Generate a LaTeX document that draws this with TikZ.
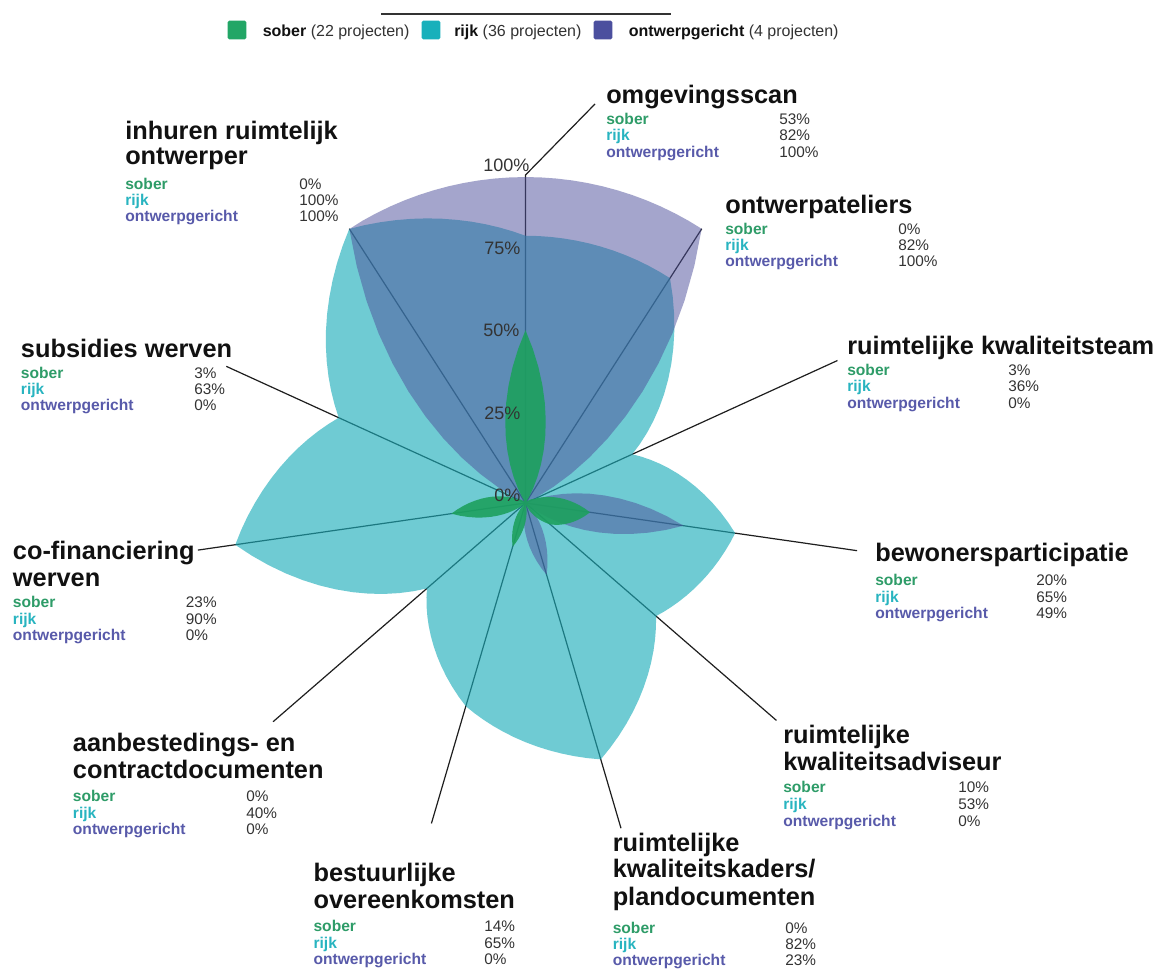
\documentclass[tikz,border=0pt]{standalone}
\usepackage{fontspec}
\setmainfont{Liberation Sans}
\usetikzlibrary{calc}
\definecolor{sobF}{RGB}{29,160,94}
\definecolor{rijF}{RGB}{28,173,186}
\definecolor{ontF}{RGB}{78,80,155}
\definecolor{sobT}{RGB}{46,156,104}
\definecolor{rijT}{RGB}{40,180,192}
\definecolor{ontT}{RGB}{88,90,170}
\definecolor{valT}{RGB}{51,51,51}
\definecolor{ttlT}{RGB}{17,17,17}
\definecolor{axC}{RGB}{30,30,30}
\definecolor{legG}{RGB}{34,166,102}
\definecolor{legT}{RGB}{25,176,187}
\definecolor{legP}{RGB}{75,79,158}

\def\vals{{0,0,0,0,0,0,0,0,0,0,0,0}}
\pgfmathdeclarefunction{rosefn}{1}{%
  \begingroup
    \pgfmathsetmacro\rfT{#1}%
    \pgfmathtruncatemacro\rfK{floor(\rfT+0.0001)}%
    \ifnum\rfK>10 \def\rfK{10}\fi
    \ifnum\rfK<0 \def\rfK{0}\fi
    \pgfmathtruncatemacro\rfKK{\rfK+1}%
    \pgfmathsetmacro\rfF{max(min(\rfT-\rfK,1),0)}%
    \pgfmathsetmacro\rfA{\vals[\rfK]}%
    \pgfmathsetmacro\rfB{\vals[\rfKK]}%
    \pgfmathsetmacro\rfA{max(\rfA,0.01)}%
    \pgfmathsetmacro\rfB{max(\rfB,0.01)}%
    \pgfmathsetmacro\rfA{\rfA^0.769231}%
    \pgfmathsetmacro\rfB{\rfB^0.769231}%
    \pgfmathsetmacro\rfR{max((1-\rfF)*\rfA+\rfF*\rfB,0.001)}%
    \pgfmathparse{\rfR^1.3}%
    \pgfmathsmuggle\pgfmathresult
  \endgroup
}

\newcommand\catrows[9]{%
  \node[rowlab, text=sobT] (#1-s) at (#2,-#4) {sober};
  \node[rowval] (#1-sv) at (#3,-#4) {#7};
  \node[rowlab, text=rijT] (#1-r) at (#2,-#5) {rijk};
  \node[rowval] (#1-rv) at (#3,-#5) {#8};
  \node[rowlab, text=ontT] (#1-o) at (#2,-#6) {ontwerpgericht};
  \node[rowval] (#1-ov) at (#3,-#6) {#9};
}

\begin{document}
\begin{tikzpicture}[x=0.75pt, y=0.75pt,
  ttl/.style={anchor=base west, inner sep=0pt, font=\fontsize{19}{20}\selectfont\bfseries, text=ttlT},
  rowlab/.style={anchor=base west, inner sep=0pt, font=\fontsize{11.7}{12}\selectfont\bfseries},
  rowval/.style={anchor=base west, inner sep=0pt, font=\fontsize{11.5}{12}\selectfont, text=valT},
  tick/.style={anchor=west, inner sep=0pt, font=\fontsize{13.5}{14}\selectfont, text=valT},
  axis/.style={draw=axC, line width=0.9pt},
  legsq/.style={minimum size=14pt, inner sep=0pt, rounded corners=1.2pt},
  legtxt/.style={anchor=base west, inner sep=0pt, font=\fontsize{12}{13}\selectfont, text=valT}]

\fill[white] (0,0) rectangle (1158,-969);
\useasboundingbox (0,0) rectangle (1158,-969);

% legend
\coordinate (legL) at (381,-14);
\coordinate (legR) at (671,-14);
\draw[valT, line width=1.3pt] (legL) -- (legR);
\node[legsq, fill=legG] (sqS) at (237,-30) {};
\node[legtxt] (lgS) at (262.5,-36.5) {\textbf{\textcolor{ttlT}{sober}} (22 projecten)};
\node[legsq, fill=legT] (sqR) at (431,-30) {};
\node[legtxt] (lgR) at (454,-36.5) {\textbf{\textcolor{ttlT}{rijk}} (36 projecten)};
\node[legsq, fill=legP] (sqO) at (603,-30) {};
\node[legtxt] (lgO) at (628.5,-36.5) {\textbf{\textcolor{ttlT}{ontwerpgericht}} (4 projecten)};

% centre and axis end points
\coordinate (C) at (525.5,-503);
\coordinate (omgA) at ($(C)+(90:328)$);
\coordinate (omgB) at (595,-104);
\coordinate (ateE) at ($(C)+(57.2727:326)$);
\coordinate (teamE) at ($(C)+(24.5455:343)$);
\coordinate (bewE) at ($(C)+(-8.1818:335)$);
\coordinate (advE) at ($(C)+(-40.9091:332)$);
\coordinate (kadE) at ($(C)+(-73.6364:339)$);
\coordinate (bestE) at ($(C)+(-106.3636:334)$);
\coordinate (aanE) at ($(C)+(-139.0909:334)$);
\coordinate (cofE) at ($(C)+(-171.8182:331)$);
\coordinate (subE) at ($(C)+(155.4545:329)$);
\coordinate (inhE) at ($(C)+(122.7273:326)$);

\draw[axis] (C) -- (omgA) -- (omgB);
\foreach \e in {ateE,teamE,bewE,advE,kadE,bestE,aanE,cofE,subE,inhE}
  \draw[axis] (C) -- (\e);

% rose shapes
\begin{scope}[shift={(C)}]
  \def\vals{{82,82,36,65,53,82,65,40,90,63,100,82}}
  \fill[rijF, fill opacity=0.63] plot[domain=0:11, samples=133, variable=\t]
    ({90-\t*32.7272727}:{3.26*rosefn(\t)}) -- cycle;
  \def\vals{{100,100,0,49,0,23,0,0,0,0,100,100}}
  \fill[ontF, fill opacity=0.51] plot[domain=0:11, samples=133, variable=\t]
    ({90-\t*32.7272727}:{3.26*rosefn(\t)}) -- cycle;
  \def\vals{{53,0,3,20,10,0,14,0,23,3,0,53}}
  \fill[sobF, fill opacity=0.9] plot[domain=0:11, samples=133, variable=\t]
    ({90-\t*32.7272727}:{3.26*rosefn(\t)}) -- cycle;
\end{scope}

% scale labels
\node[tick] (t100) at (483,-165.5) {100\%};
\node[tick] (t75) at (484,-248.5) {75\%};
\node[tick] (t50) at (483,-330.5) {50\%};
\node[tick] (t25) at (484,-413.5) {25\%};
\node[tick] (t0) at (494,-495.5) {0\%};

% category labels
\node[ttl] (omg-t) at (606,-104) {omgevingsscan};
\catrows{omg}{606}{779}{124.3}{140.7}{157.3}{53\%}{82\%}{100\%}

\node[ttl] (ate-t) at (725,-213.3) {ontwerpateliers};
\catrows{ate}{725}{898}{234.3}{250.7}{266.7}{0\%}{82\%}{100\%}

\node[ttl] (team-t) at (847,-355) {ruimtelijke kwaliteitsteam};
\catrows{team}{847}{1008}{375.5}{392}{408.5}{3\%}{36\%}{0\%}

\node[ttl] (bew-t) at (875,-562) {bewonersparticipatie};
\catrows{bew}{875}{1036}{586}{602.5}{619}{20\%}{65\%}{49\%}

\node[ttl] (adv-t1) at (783,-744) {ruimtelijke};
\node[ttl] (adv-t2) at (783,-770.5) {kwaliteitsadviseur};
\catrows{adv}{783}{958}{793}{810}{826.5}{10\%}{53\%}{0\%}

\node[ttl] (kad-t1) at (612.5,-851.5) {ruimtelijke};
\node[ttl] (kad-t2) at (612.5,-878) {kwaliteitskaders/};
\node[ttl] (kad-t3) at (612.5,-905) {plandocumenten};
\catrows{kad}{612.5}{785}{933.3}{949.5}{965.5}{0\%}{82\%}{23\%}

\node[ttl] (best-t1) at (313.3,-881.7) {bestuurlijke};
\node[ttl] (best-t2) at (313.3,-908.3) {overeenkomsten};
\catrows{best}{313.3}{484}{931.7}{948.3}{964.3}{14\%}{65\%}{0\%}

\node[ttl] (aan-t1) at (72.7,-751.7) {aanbestedings- en};
\node[ttl] (aan-t2) at (72.7,-778.3) {contractdocumenten};
\catrows{aan}{72.7}{246}{801.7}{818.3}{835}{0\%}{40\%}{0\%}

\node[ttl] (cof-t1) at (12.7,-560) {co-financiering};
\node[ttl] (cof-t2) at (12.7,-586.7) {werven};
\catrows{cof}{12.7}{185.7}{607.3}{624.3}{641}{23\%}{90\%}{0\%}

\node[ttl] (sub-t) at (20.7,-357.3) {subsidies werven};
\catrows{sub}{20.7}{194}{378.3}{395}{411}{3\%}{63\%}{0\%}

\node[ttl] (inh-t1) at (125,-139.3) {inhuren ruimtelijk};
\node[ttl] (inh-t2) at (125,-165) {ontwerper};
\catrows{inh}{125}{299}{189.3}{205.7}{221.7}{0\%}{100\%}{100\%}

\end{tikzpicture}
\end{document}
